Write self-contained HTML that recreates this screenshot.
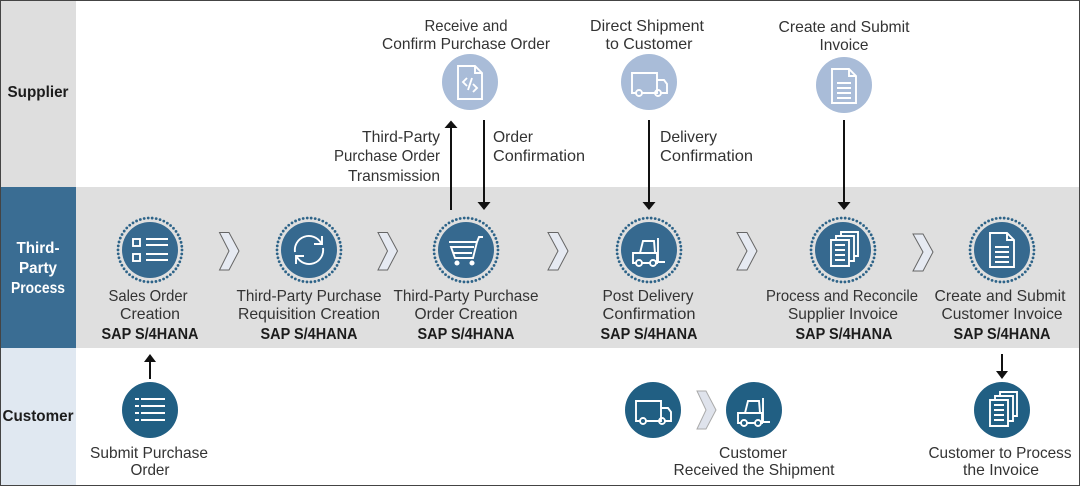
<!DOCTYPE html>
<html><head><meta charset="utf-8"><style>
html,body{margin:0;padding:0;background:#fff}
svg{display:block}
text{font-family:"Liberation Sans",sans-serif;font-size:16px;fill:#333;text-anchor:middle}
.b{font-weight:bold;fill:#1c1c1c}
.w{font-weight:bold;fill:#fff}
.r{text-anchor:end}
.l{text-anchor:start}
.ic{fill:none;stroke:#fff;stroke-width:1.9}
.ar{stroke:#111;stroke-width:2;fill:none}
.ch{fill:#e6eaf2;stroke:#666;stroke-width:1}
.ring{fill:none;stroke:#2d6388;stroke-width:2.8;stroke-dasharray:0 4.02;stroke-linecap:round}
</style></head><body>
<svg width="1080" height="486" viewBox="0 0 1080 486" xmlns="http://www.w3.org/2000/svg">
<defs>
<g id="list2"><rect x="-17" y="-11" width="7" height="7"/><rect x="-17" y="4" width="7" height="7"/><path d="M-4-11H18M-4-5H18M-4 4H18M-4 10H18"/></g>
<g id="list4"><path d="M-9-11H15M-9-4H15M-9 3H15M-9 10H15M-15-11h4M-15-4h4M-15 3h4M-15 10h4"/></g>
<g id="sync"><path d="M-14 2A14 14 0 0 1 12-7M13-14V-6H5M14-2A14 14 0 0 1-12 7M-13 14V6H-5"/></g>
<g id="cart"><path d="M-17-8H11L7 8H-11L-15-3H8M-13 3H6M11-8L13-13H17"/><circle cx="-9" cy="13" r="1.6" fill="#fff"/><circle cx="6" cy="13" r="1.6" fill="#fff"/></g>
<g id="fork"><path d="M-13 13H-16V3H8V13H7M-9 3L-6-9H5L6 3M-7 13H1M9-12V12H16"/><circle cx="-10" cy="13" r="3"/><circle cx="4" cy="13" r="3"/></g>
<g id="truck"><path d="M-13 11H-17V-9H8V11H-7M8-2H15L18 2V11H12M6 11H-7"/><circle cx="-10" cy="11" r="3"/><circle cx="9" cy="11" r="3"/></g>
<g id="doc"><path d="M-12-17H5L12-10V17H-12ZM5-17V-10H12M-7-3H7M-7 2H7M-7 7H7M-7 12H7"/></g>
<g id="code"><path d="M-12-16H5L12-9V17H-12ZM5-16V-9H12M-3-4L-7 0-3 4M3 2L7 6 3 10M2-4L-2 8"/></g>
<g id="docs"><path d="M-12-10H6V16H-12ZM-8-5H2M-8 0H2M-8 5H2M-8 10H2M-7-10V-14H11V11H6M-2-14V-18H15V6H11"/></g>
</defs>

<rect width="1080" height="486" fill="#fff"/>
<rect x="0" y="0" width="76" height="187" fill="#dedede"/>
<rect x="76" y="187" width="1004" height="161" fill="#dfdfdf"/>
<rect x="0" y="187" width="76" height="161" fill="#3a6d93"/>
<rect x="0" y="348" width="76" height="138" fill="#e0e8f1"/>
<rect x="0.5" y="0.5" width="1079" height="485" fill="none" stroke="#444" stroke-width="1"/>

<text class="b" x="38" y="97" textLength="61" lengthAdjust="spacingAndGlyphs">Supplier</text>
<text class="w" x="38" y="253" textLength="43" lengthAdjust="spacingAndGlyphs">Third-</text>
<text class="w" x="38" y="273" textLength="38" lengthAdjust="spacingAndGlyphs">Party</text>
<text class="w" x="38" y="293" textLength="54" lengthAdjust="spacingAndGlyphs">Process</text>
<text class="b" x="38" y="421" textLength="71" lengthAdjust="spacingAndGlyphs">Customer</text>

<!-- Supplier circles -->
<g fill="#a9bcd8">
<circle cx="470" cy="82" r="28"/><circle cx="649" cy="82" r="28"/><circle cx="844" cy="85" r="28"/>
</g>
<use href="#code" x="470" y="82" class="ic"/>
<use href="#truck" x="649" y="82" class="ic"/>
<use href="#doc" x="844" y="86" class="ic"/>

<!-- Process circles -->
<g fill="#36698f">
<circle cx="150" cy="250" r="28"/><circle cx="309" cy="250" r="28"/><circle cx="466" cy="250" r="28"/>
<circle cx="649" cy="250" r="28"/><circle cx="843" cy="250" r="28"/><circle cx="1002" cy="250" r="28"/>
</g>
<g class="ring">
<circle cx="150" cy="250" r="32"/><circle cx="309" cy="250" r="32"/><circle cx="466" cy="250" r="32"/>
<circle cx="649" cy="250" r="32"/><circle cx="843" cy="250" r="32"/><circle cx="1002" cy="250" r="32"/>
</g>
<use href="#list2" x="150" y="250" class="ic"/>
<use href="#sync" x="309" y="250" class="ic"/>
<use href="#cart" x="466" y="250" class="ic"/>
<use href="#fork" x="649" y="250" class="ic"/>
<use href="#docs" x="843" y="250" class="ic"/>
<use href="#doc" x="1002" y="250" class="ic"/>

<!-- Customer circles -->
<g fill="#215f83">
<circle cx="150" cy="410" r="28"/><circle cx="653" cy="410" r="28"/><circle cx="754" cy="410" r="28"/><circle cx="1002" cy="410" r="28"/>
</g>
<use href="#list4" x="150" y="410" class="ic"/>
<use href="#truck" x="653" y="410" class="ic"/>
<use href="#fork" x="754" y="410" class="ic"/>
<use href="#docs" x="1002" y="410" class="ic"/>

<!-- Chevrons -->
<g class="ch">
<path d="M219.5 232.5H229L239 251 229 270H219.500L229 251Z"/>
<path d="M378 232.500H387.500L397.500 251 387.500 270H378L387.500 251Z"/>
<path d="M548 232.500H558L568 251 558 270H548L558 251Z"/>
<path d="M737 232.500H747L757 251 747 270H737L747 251Z"/>
<path d="M913 234H923L933 252 923 271H913L923 252Z"/>
<path d="M697 391H706L716 410 706 429H697L706 410Z" fill="#dfe3ec" stroke="#aaa"/>
</g>

<!-- Arrows -->
<g class="ar">
<path d="M451 210V126"/><path d="M484 120V204"/><path d="M649 120V204"/><path d="M844 120V204"/>
<path d="M150 379V360"/><path d="M1002 354V374"/>
</g>
<g fill="#111">
<path d="M444.500 128L451 120.500 457.500 128Z"/>
<path d="M477.500 202L484 210 490.500 202Z"/>
<path d="M642.500 202L649 210 655.500 202Z"/>
<path d="M837.500 202L844 210 850.500 202Z"/>
<path d="M144 362L150 354 156 362Z"/>
<path d="M996 371L1002 379 1008 371Z"/>
</g>

<!-- Top labels -->
<text x="466" y="31" textLength="83" lengthAdjust="spacingAndGlyphs">Receive and</text>
<text x="466" y="49" textLength="168" lengthAdjust="spacingAndGlyphs">Confirm Purchase Order</text>
<text x="647" y="31" textLength="114" lengthAdjust="spacingAndGlyphs">Direct Shipment</text>
<text x="649" y="49" textLength="87" lengthAdjust="spacingAndGlyphs">to Customer</text>
<text x="844" y="32" textLength="131" lengthAdjust="spacingAndGlyphs">Create and Submit</text>
<text x="844" y="50" textLength="49" lengthAdjust="spacingAndGlyphs">Invoice</text>

<!-- Connector labels -->
<text class="r" x="440" y="142" textLength="78" lengthAdjust="spacingAndGlyphs">Third-Party</text>
<text class="r" x="440" y="161" textLength="106" lengthAdjust="spacingAndGlyphs">Purchase Order</text>
<text class="r" x="440" y="181" textLength="92" lengthAdjust="spacingAndGlyphs">Transmission</text>
<text class="l" x="493" y="142" textLength="40" lengthAdjust="spacingAndGlyphs">Order</text>
<text class="l" x="493" y="161" textLength="92" lengthAdjust="spacingAndGlyphs">Confirmation</text>
<text class="l" x="660" y="142" textLength="57" lengthAdjust="spacingAndGlyphs">Delivery</text>
<text class="l" x="660" y="161" textLength="93" lengthAdjust="spacingAndGlyphs">Confirmation</text>

<!-- Process labels -->
<text x="148" y="301" textLength="79" lengthAdjust="spacingAndGlyphs">Sales Order</text>
<text x="150" y="319" textLength="60" lengthAdjust="spacingAndGlyphs">Creation</text>
<text class="b" x="150" y="339" textLength="97" lengthAdjust="spacingAndGlyphs">SAP S/4HANA</text>

<text x="309" y="301" textLength="145" lengthAdjust="spacingAndGlyphs">Third-Party Purchase</text>
<text x="309" y="319" textLength="142" lengthAdjust="spacingAndGlyphs">Requisition Creation</text>
<text class="b" x="309" y="339" textLength="97" lengthAdjust="spacingAndGlyphs">SAP S/4HANA</text>

<text x="466" y="301" textLength="145" lengthAdjust="spacingAndGlyphs">Third-Party Purchase</text>
<text x="466" y="319" textLength="103" lengthAdjust="spacingAndGlyphs">Order Creation</text>
<text class="b" x="466" y="339" textLength="97" lengthAdjust="spacingAndGlyphs">SAP S/4HANA</text>

<text x="648" y="301" textLength="91" lengthAdjust="spacingAndGlyphs">Post Delivery</text>
<text x="649" y="319" textLength="93" lengthAdjust="spacingAndGlyphs">Confirmation</text>
<text class="b" x="649" y="339" textLength="97" lengthAdjust="spacingAndGlyphs">SAP S/4HANA</text>

<text x="842" y="301" textLength="152" lengthAdjust="spacingAndGlyphs">Process and Reconcile</text>
<text x="843" y="319" textLength="110" lengthAdjust="spacingAndGlyphs">Supplier Invoice</text>
<text class="b" x="844" y="339" textLength="97" lengthAdjust="spacingAndGlyphs">SAP S/4HANA</text>

<text x="1000" y="301" textLength="131" lengthAdjust="spacingAndGlyphs">Create and Submit</text>
<text x="1002" y="319" textLength="121" lengthAdjust="spacingAndGlyphs">Customer Invoice</text>
<text class="b" x="1002" y="339" textLength="97" lengthAdjust="spacingAndGlyphs">SAP S/4HANA</text>

<!-- Customer labels -->
<text x="149" y="458" textLength="118" lengthAdjust="spacingAndGlyphs">Submit Purchase</text>
<text x="150" y="475" textLength="39" lengthAdjust="spacingAndGlyphs">Order</text>
<text x="753" y="458" textLength="68" lengthAdjust="spacingAndGlyphs">Customer</text>
<text x="754" y="475" textLength="161" lengthAdjust="spacingAndGlyphs">Received the Shipment</text>
<text x="1000" y="458" textLength="143" lengthAdjust="spacingAndGlyphs">Customer to Process</text>
<text x="1001" y="475" textLength="76" lengthAdjust="spacingAndGlyphs">the Invoice</text>
</svg>
</body></html>
